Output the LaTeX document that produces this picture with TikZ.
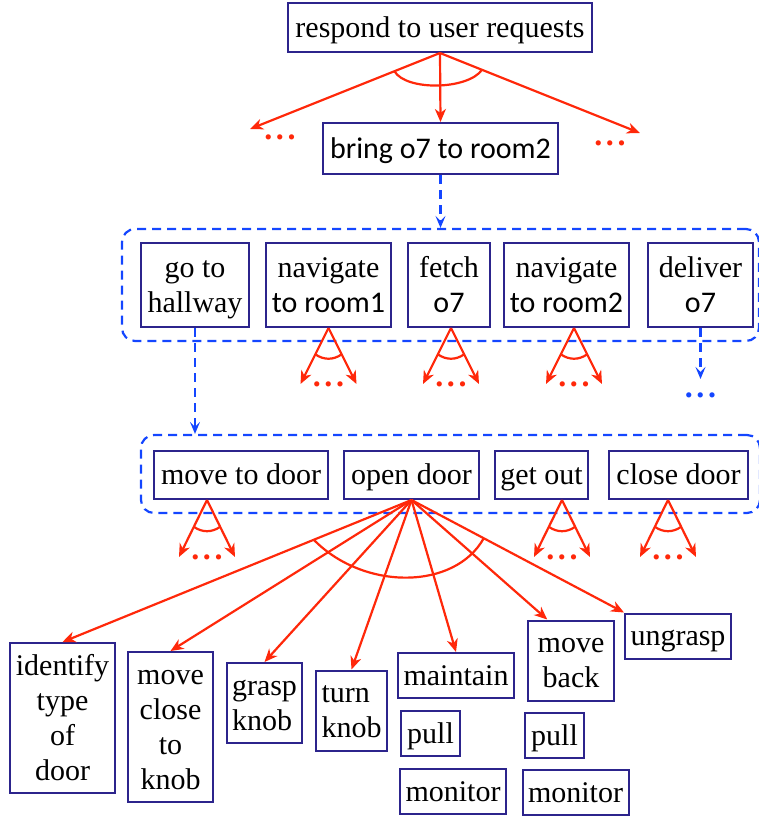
\documentclass[tikz,border=0pt]{standalone}
\usepackage{fontspec}
\setmainfont{Liberation Serif}
\newfontfamily\cfont{Carlito}
\usetikzlibrary{arrows.meta,calc}

\definecolor{boxblue}{RGB}{44,36,140}
\definecolor{linered}{RGB}{255,40,10}
\definecolor{dashblue}{RGB}{20,70,255}
\newcommand{\tstrut}{\rule[-4pt]{0pt}{17.5pt}}

\begin{document}
\begin{tikzpicture}[x=0.5pt,y=-0.5pt,
	box/.style={draw=boxblue, line width=1pt, fill=white, align=center,
		inner xsep=2.75pt, inner ysep=2.5pt, font=\fontsize{15}{17.5}\selectfont\tstrut},
	group/.style={draw=dashblue, line width=1.1pt, dash pattern=on 4.5pt off 3pt,
		rounded corners=6.5pt, inner sep=0pt},
	redarr/.style={draw=linered, line width=1.1pt, -{Stealth[length=6.5pt,width=5.5pt,inset=2pt]}},
	redline/.style={draw=linered, line width=1.1pt},
	bluearr/.style={draw=dashblue, line width=1.1pt, dash pattern=on 4.5pt off 3pt,
		-{Stealth[length=6pt,width=5pt,inset=2.5pt]}},
	reddots/.style={text=linered, inner sep=0pt, font=\fontsize{16}{17.5}\selectfont\bfseries},
	bluedots/.style={reddots, text=dashblue}]
	\useasboundingbox (0,0) rectangle (759,819);
	%\draw[help lines] (0,0) grid[step=50] (759,819);

	% top task and its method
	\node[box, minimum width=152pt, minimum height=24.5pt] (req) at (440,27.5) {respond to user requests};
	\node[box, minimum width=117.5pt, minimum height=25.5pt] (bring) at (440.5,148.5) {\cfont bring o7 to room2};
	\draw[redarr] (req.south) -- (bring.north);
	\draw[redarr] (req.south) -- ++(-190,76) coordinate (reqleft);
	\draw[redarr] (req.south) -- ++(200,80) coordinate (reqright);
	\draw[redline] ($(req.south)!.24!(reqleft)$) .. controls +(12,20) and +(-14,20) .. ($(req.south)!.21!(reqright)$);
	\node[reddots] (dotsleft) at (280,137) {.\kern1.8pt.\kern1.8pt.};
	\node[reddots] (dotsright) at (610,143) {.\kern1.8pt.\kern1.8pt.};

	% first refinement
	\node[group, minimum width=318.5pt, minimum height=56pt] (row1) at (440.5,285) {};
	\node[box, minimum width=54pt, minimum height=42pt] (hall) at (195,285) {\tstrut go to\\hallway\tstrut};
	\node[box, minimum width=62.5pt, minimum height=42pt] (nav1) at (328.5,285) {\tstrut navigate\\{\cfont to room1}\tstrut};
	\node[box, minimum width=41pt, minimum height=42pt] (fetch) at (449,285) {\tstrut fetch\\{\cfont o7}\tstrut};
	\node[box, minimum width=59.5pt, minimum height=42pt] (nav2) at (566.5,285) {\tstrut navigate\\{\cfont to room2}\tstrut};
	\node[box, minimum width=52.5pt, minimum height=42pt] (deliver) at (700.5,285) {\tstrut deliver\\{\cfont o7}\tstrut};
	\draw[bluearr] (bring.south) -- (row1.north);

	% fans below the first row
	\draw[redarr] (nav1.south) -- ++(-28,56) coordinate (n1l);
	\draw[redarr] (nav1.south) -- ++(28,56) coordinate (n1r);
	\draw[redline] ($(nav1.south)!.47!(n1l)$) to[bend right=35] ($(nav1.south)!.47!(n1r)$);
	\node[reddots] (n1d) at ($(n1l)!.5!(n1r)$) {.\kern1.8pt.\kern1.8pt.};
	\coordinate (fa) at ([xshift=1pt]fetch.south);
	\draw[redarr] (fa) -- ++(-28,56) coordinate (fl);
	\draw[redarr] (fa) -- ++(28,56) coordinate (fr);
	\draw[redline] ($(fa)!.47!(fl)$) to[bend right=35] ($(fa)!.47!(fr)$);
	\node[reddots] (fd) at ($(fl)!.5!(fr)$) {.\kern1.8pt.\kern1.8pt.};
	\coordinate (n2a) at ([xshift=3.75pt]nav2.south);
	\draw[redarr] (n2a) -- ++(-28,56) coordinate (n2l);
	\draw[redarr] (n2a) -- ++(28,56) coordinate (n2r);
	\draw[redline] ($(n2a)!.47!(n2l)$) to[bend right=35] ($(n2a)!.47!(n2r)$);
	\node[reddots] (n2d) at ($(n2l)!.5!(n2r)$) {.\kern1.8pt.\kern1.8pt.};
	\draw[bluearr] (deliver.south) -- ++(0,51) coordinate (delend);
	\node[bluedots] (deld) at ($(delend)+(0,16)$) {.\kern1.8pt.\kern1.8pt.};

	% second refinement
	\node[group, minimum width=309.5pt, minimum height=39pt] (row2) at (450.5,474) {};
	\node[box, minimum width=87pt, minimum height=24pt] (movedoor) at (241,475) {move to door};
	\node[box, minimum width=67.5pt, minimum height=24pt] (open) at (411.5,475) {open door};
	\node[box, minimum width=46.5pt, minimum height=24pt] (getout) at (541.5,475) {get out};
	\node[box, minimum width=69.5pt, minimum height=24pt] (close) at (678.5,475) {close door};
	\draw[bluearr] (hall.south) -- (hall.south |- row2.north);

	% fans below the second row
	\coordinate (mda) at ([xshift=-17pt]movedoor.south);
	\draw[redarr] (mda) -- ++(-28,57) coordinate (mdl);
	\draw[redarr] (mda) -- ++(28,57) coordinate (mdr);
	\draw[redline] ($(mda)!.47!(mdl)$) to[bend right=35] ($(mda)!.47!(mdr)$);
	\node[reddots] (mdd) at ($(mdl)!.5!(mdr)$) {.\kern1.8pt.\kern1.8pt.};
	\coordinate (goa) at ([xshift=10.25pt]getout.south);
	\draw[redarr] (goa) -- ++(-28,57) coordinate (gol);
	\draw[redarr] (goa) -- ++(28,57) coordinate (gor);
	\draw[redline] ($(goa)!.47!(gol)$) to[bend right=35] ($(goa)!.47!(gor)$);
	\node[reddots] (god) at ($(gol)!.5!(gor)$) {.\kern1.8pt.\kern1.8pt.};
	\coordinate (cda) at ([xshift=-5.25pt]close.south);
	\draw[redarr] (cda) -- ++(-28,57) coordinate (cdl);
	\draw[redarr] (cda) -- ++(28,57) coordinate (cdr);
	\draw[redline] ($(cda)!.47!(cdl)$) to[bend right=35] ($(cda)!.47!(cdr)$);
	\node[reddots] (cdd) at ($(cdl)!.5!(cdr)$) {.\kern1.8pt.\kern1.8pt.};

	% primitive steps of open door
	\node[box, minimum width=51.5pt] (identify) at (62.5,718) {\tstrut identify\\type\\of\\door\tstrut};
	\node[box, minimum width=42.5pt] (moveclose) at (170.5,727) {\tstrut move\\close\\to\\knob\tstrut};
	\node[box, align=left, minimum width=37.5pt] (grasp) at (264.5,703) {\tstrut grasp\\knob\tstrut};
	\node[box, align=left, minimum width=35.5pt] (turn) at (351.5,710.5) {\tstrut turn\\knob\tstrut};
	\node[box, minimum width=58pt] (maintain) at (456,675.5) {maintain};
	\node[box, minimum width=29.5pt] (pull1) at (430.5,733.5) {pull};
	\node[box, minimum width=53pt] (monitor1) at (453,791.5) {monitor};
	\node[box, minimum width=43pt] (moveback) at (571,660.5) {\tstrut move\\back\tstrut};
	\node[box, minimum width=29.5pt] (pull2) at (554.5,735.5) {pull};
	\node[box, minimum width=52.5pt] (monitor2) at (575.5,792.5) {monitor};
	\node[box, minimum width=53pt] (ungrasp) at (678,636) {ungrasp};
	\draw[redarr] (open.south) -- (identify.north);
	\draw[redarr] (open.south) -- (moveclose.north);
	\draw[redarr] (open.south) -- (grasp.north);
	\draw[redarr] (open.south) -- (turn.north);
	\draw[redarr] (open.south) -- (maintain.north);
	\draw[redarr] (open.south) -- ($(moveback.north west)!.23!(moveback.north east)$);
	\draw[redarr] (open.south) -- (ungrasp.north west);
	\draw[redline] ($(open.south)!.28!(identify.north)$) .. controls +(50,51) and +(-29,52) .. ($(open.south)!.34!(ungrasp.north west)$);
\end{tikzpicture}
\end{document}
